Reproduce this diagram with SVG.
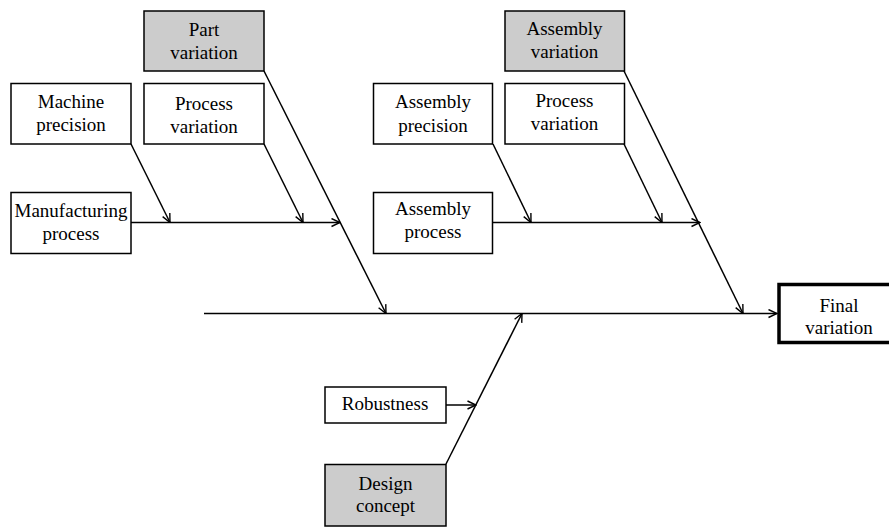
<svg xmlns="http://www.w3.org/2000/svg" width="889" height="527" viewBox="0 0 889 527">
<style>
.box{fill:#fff;stroke:#000;stroke-width:1.5}
.main{fill:#cccccc;stroke:#000;stroke-width:1.5}
.final{fill:#fff;stroke:#000;stroke-width:3.5}
text{font-family:"Liberation Serif","Times New Roman",serif;font-size:19px;fill:#000;text-anchor:middle}
.c line{stroke:#000;stroke-width:1.5;fill:none;marker-end:url(#arr)}
</style>
<defs>
<marker id="arr" viewBox="0 0 10 10" refX="9.5" refY="5" markerWidth="10" markerHeight="10" markerUnits="userSpaceOnUse" orient="auto">
<path d="M1,1 L9.5,5 L1,9" fill="none" stroke="#000" stroke-width="1.4"/>
</marker>
</defs>
<g class="c" id="connectors">
<line x1="204" y1="313.5" x2="777" y2="313.5"/>
<line x1="131" y1="222.5" x2="340" y2="222.5"/>
<line x1="131" y1="144" x2="170" y2="222.5"/>
<line x1="264" y1="144" x2="303" y2="222.5"/>
<line x1="264" y1="71" x2="386" y2="313.5"/>
<line x1="493" y1="222.5" x2="700" y2="222.5"/>
<line x1="493" y1="144" x2="531" y2="222.5"/>
<line x1="624" y1="144" x2="662" y2="222.5"/>
<line x1="624" y1="71" x2="743" y2="313.5"/>
<line x1="446" y1="405" x2="476" y2="405"/>
<line x1="446" y1="464" x2="522" y2="313.5"/>
</g>
<g id="part-variation"><rect class="main" x="144" y="11" width="120" height="60"/><text x="204" y="35.5">Part</text><text x="204" y="58.5">variation</text></g>
<g id="machine-precision"><rect class="box" x="11" y="83.5" width="120" height="60.5"/><text x="71" y="108">Machine</text><text x="71" y="131">precision</text></g>
<g id="process-variation-1"><rect class="box" x="144" y="83.5" width="120" height="60.5"/><text x="204" y="109.5">Process</text><text x="204" y="132.5">variation</text></g>
<g id="manufacturing-process"><rect class="box" x="11" y="192.5" width="120" height="61"/><text x="71" y="216.5">Manufacturing</text><text x="71" y="240">process</text></g>
<g id="assembly-variation"><rect class="main" x="505" y="11" width="119.5" height="60"/><text x="564.5" y="34.5">Assembly</text><text x="564.5" y="58">variation</text></g>
<g id="assembly-precision"><rect class="box" x="373.5" y="83.5" width="119" height="60.5"/><text x="433" y="108">Assembly</text><text x="433" y="131.5">precision</text></g>
<g id="process-variation-2"><rect class="box" x="505" y="83.5" width="119.5" height="60.5"/><text x="564.5" y="107">Process</text><text x="564.5" y="130">variation</text></g>
<g id="assembly-process"><rect class="box" x="373.5" y="192.5" width="119" height="61"/><text x="433" y="215">Assembly</text><text x="433" y="238">process</text></g>
<g id="final-variation"><rect class="final" x="779" y="284.5" width="120" height="58"/><text x="839" y="311.5">Final</text><text x="839" y="333.5">variation</text></g>
<g id="robustness"><rect class="box" x="325" y="387" width="121" height="36"/><text x="385" y="409.5">Robustness</text></g>
<g id="design-concept"><rect class="main" x="325" y="464.5" width="121" height="61.5"/><text x="385.5" y="489.5">Design</text><text x="385.5" y="512">concept</text></g>
</svg>
